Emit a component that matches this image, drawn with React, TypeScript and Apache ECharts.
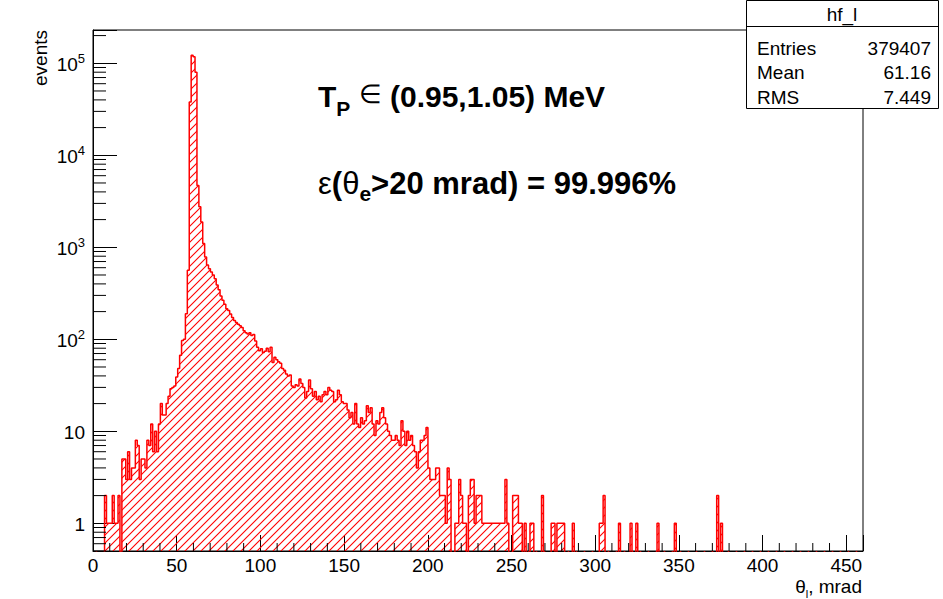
import React, { useEffect, useRef } from "react";
import * as echarts from "echarts";

const FONT = '"Liberation Sans", Arial, Helvetica, sans-serif';

// Histogram binning (mrad)
const BIN_WIDTH = 1.15;
const X_MAX = 460;
const Y_MIN = 0.5;
const Y_MAX = 2.3e5;
// empty bins are pushed below the frame so their outline drops out of view
const EMPTY_LEVEL = 0.3;

// bins 0..49: rising edge
const risingCounts = [
  0, 0, 0, 0, 0, 0, 2, 1, 1, 1, 2, 1, 1, 2, 0, 5, 5, 3, 6, 3,
  4, 4, 8, 7, 3, 5, 5, 4, 8, 7, 12, 6, 10, 6, 12, 20, 15, 15, 20, 24,
  29, 30, 31, 39, 48, 67, 97, 100, 190, 562,
];
// bins 50..58: the peak
const peakCounts = [38000, 122000, 118000, 80000, 4700, 2750, 1880, 1100, 785];
// bins 59..201: falling tail
const tailCounts = [
  640, 585, 540, 500, 455, 390, 345, 295, 265, 240, 215, 205,
  188, 172, 160, 152, 146, 140, 134, 124, 118, 114,
  118, 110, 113, 96, 82, 75, 79, 72, 74, 80,
  73, 82, 56, 64, 60, 57, 55, 48, 46, 42,
  40, 41, 31, 30, 32, 31, 37, 33, 30, 23,
  27, 36, 29, 24, 27, 22, 24, 21, 25, 27,
  25, 30, 28, 27, 21, 22, 28, 25, 21, 20,
  20, 17, 14, 16, 12, 20, 12, 11, 14, 12,
  13, 19, 16, 18, 12, 9, 13, 12, 16, 18,
  14, 12, 10, 9, 8, 8, 9, 8, 7, 13,
  10, 7, 10, 8, 9, 7, 6, 4, 6, 8,
  8, 9, 11, 4, 3, 3, 3, 4, 4, 2,
  2, 2, 1, 4, 3, 0, 0, 1, 1, 3,
  2, 1, 1, 0, 2, 3, 3, 1, 2, 2,
  2,
];
// isolated bins beyond 201: [bin, count]
const sparseTail: [number, number][] = [
  [202, 1], [203, 1], [204, 1], [205, 1], [206, 1], [207, 1], [208, 1],
  [209, 1], [210, 1], [211, 1], [212, 1], [213, 1], [214, 3], [215, 1],
  [218, 2], [219, 2], [220, 2], [221, 1], [222, 1], [224, 1], [227, 1],
  [228, 1], [233, 2], [238, 1], [239, 1], [241, 1], [242, 1], [243, 1],
  [244, 1], [249, 1], [263, 1], [264, 1], [265, 2], [273, 1], [279, 1],
  [282, 1], [293, 1], [302, 1], [324, 2], [326, 1],
];

const xMajorTicks = [0, 50, 100, 150, 200, 250, 300, 350, 400, 450];
const yDecades = [1, 10, 100, 1000, 10000, 100000];

const statsTitle = "hf_l";
const statsRows: [string, string][] = [
  ["Entries", "379407"],
  ["Mean", "61.16"],
  ["RMS", "7.449"],
];

function buildCounts(): number[] {
  const n = Math.round(X_MAX / BIN_WIDTH);
  const counts = new Array(n).fill(0);
  risingCounts.forEach((c, i) => (counts[i] = c));
  peakCounts.forEach((c, i) => (counts[50 + i] = c));
  tailCounts.forEach((c, i) => (counts[59 + i] = c));
  sparseTail.forEach(([b, c]) => (counts[b] = c));
  return counts;
}

function makeHatch(): HTMLCanvasElement {
  const s = 8;
  const c = document.createElement("canvas");
  c.width = s;
  c.height = s;
  const g = c.getContext("2d")!;
  g.strokeStyle = "#ff0000";
  g.lineWidth = 1.1;
  g.beginPath();
  g.moveTo(0, s);
  g.lineTo(s, 0);
  g.moveTo(-1, 1);
  g.lineTo(1, -1);
  g.moveTo(s - 1, s + 1);
  g.lineTo(s + 1, s - 1);
  g.stroke();
  return c;
}

function minorTickData(): number[][] {
  const out: number[][] = [];
  // x: every 10 mrad between the labelled ticks
  for (let v = 10; v < X_MAX; v += 10) {
    if (!xMajorTicks.includes(v)) out.push([v, Y_MIN, 0]);
  }
  // y: 2..9 within each decade
  for (let d = -1; d <= 5; d++) {
    for (let k = 2; k <= 9; k++) {
      const v = k * Math.pow(10, d);
      if (v >= Y_MIN && v <= Y_MAX) out.push([0, v, 1]);
    }
  }
  return out;
}

const textStyle = (text: string, align: string, vAlign: string, extra: any = {}) => ({
  text,
  font: `19px ${FONT}`,
  fill: "#000",
  align,
  verticalAlign: vAlign,
  textAlign: align,
  textVerticalAlign: vAlign,
  ...extra,
});

export default function App() {
  const ref = useRef<HTMLDivElement>(null);

  useEffect(() => {
    if (!ref.current) return;
    const chart = echarts.init(ref.current, undefined, { renderer: "svg" });
    const counts = buildCounts();
    const points = counts.map((c, i) => [i * BIN_WIDTH, c > 0 ? c : EMPTY_LEVEL]);
    points.push([X_MAX, EMPTY_LEVEL]);
    const hatch = makeHatch();

    const option: any = {
      animation: false,
      backgroundColor: "#ffffff",
      grid: {
        left: 93,
        top: 30,
        right: 80,
        bottom: 48,
        show: true,
        borderColor: "#000",
        borderWidth: 1,
        backgroundColor: "transparent",
      },
      xAxis: {
        type: "value",
        min: 0,
        max: X_MAX,
        interval: 50,
        axisLine: { show: true, onZero: false, lineStyle: { color: "#000", width: 1 } },
        axisTick: { show: true, inside: true, length: 16, lineStyle: { color: "#000", width: 1 } },
        axisLabel: {
          margin: 5,
          color: "#000",
          fontFamily: FONT,
          fontSize: 19,
          formatter: (v: number) => (xMajorTicks.includes(v) ? String(v) : ""),
        },
        splitLine: { show: false },
      },
      yAxis: {
        type: "log",
        logBase: 10,
        min: Y_MIN,
        max: Y_MAX,
        axisLine: { show: true, lineStyle: { color: "#000", width: 1 } },
        axisTick: { show: true, inside: true, length: 24, lineStyle: { color: "#000", width: 1 } },
        axisLabel: {
          margin: 8,
          color: "#000",
          formatter: (v: number) => {
            const e = Math.round(Math.log10(v));
            if (Math.abs(Math.log10(v) - e) > 1e-6 || !yDecades.includes(Math.pow(10, e))) return "";
            if (e === 0) return "{b|1}";
            if (e === 1) return "{b|10}";
            return "{b|10}{s|" + e + "}";
          },
          rich: {
            b: { fontFamily: FONT, fontSize: 19, lineHeight: 22, verticalAlign: "bottom", color: "#000" },
            s: { fontFamily: FONT, fontSize: 13, lineHeight: 11, verticalAlign: "top", color: "#000" },
          },
        },
        splitLine: { show: false },
      },
      series: [
        {
          type: "line",
          data: points,
          step: "end",
          showSymbol: false,
          symbol: "none",
          clip: true,
          lineStyle: { color: "#ff0000", width: 1.5 },
          areaStyle: {
            origin: "start",
            opacity: 1,
            color: { image: hatch, repeat: "repeat", imageWidth: 8, imageHeight: 8 },
          },
          z: 3,
        },
        {
          type: "custom",
          coordinateSystem: "cartesian2d",
          silent: true,
          data: minorTickData(),
          encode: { x: 0, y: 1 },
          z: 4,
          renderItem: (_params: any, api: any) => {
            const kind = api.value(2);
            const p = api.coord([api.value(0), api.value(1)]);
            if (kind === 0) {
              return {
                type: "line",
                shape: { x1: p[0], y1: p[1], x2: p[0], y2: p[1] - 8 },
                style: { stroke: "#000", lineWidth: 1 },
              };
            }
            return {
              type: "line",
              shape: { x1: p[0], y1: p[1], x2: p[0] + 13, y2: p[1] },
              style: { stroke: "#000", lineWidth: 1 },
            };
          },
        },
      ],
      graphic: [
        // y axis title
        {
          type: "text",
          x: 40,
          y: 30,
          rotation: Math.PI / 2,
          style: textStyle("events", "right", "middle"),
        },
        // x axis title
        {
          type: "text",
          x: 862,
          y: 577,
          style: textStyle("{n|θ}{s|l}{n|, mrad}", "right", "top", {
            rich: {
              s: { fontFamily: FONT, fontSize: 11, lineHeight: 22, verticalAlign: "bottom", fill: "#000" },
              n: { fontFamily: FONT, fontSize: 19, lineHeight: 19, verticalAlign: "top", fill: "#000" },
            },
          }),
        },
        // annotation: proton energy window
        {
          type: "text",
          x: 318,
          y: 81,
          style: textStyle("{b|T}{sub|P}{b| }{sym|∈}{b| (0.95,1.05) MeV}", "left", "top", {
            rich: {
              b: { fontFamily: FONT, fontSize: 30, fontWeight: "bold", lineHeight: 30, verticalAlign: "top", fill: "#000" },
              sub: { fontFamily: FONT, fontSize: 21, fontWeight: "bold", lineHeight: 38, verticalAlign: "bottom", fill: "#000" },
              sym: { fontFamily: FONT, fontSize: 26, lineHeight: 30, verticalAlign: "top", fill: "#000" },
            },
          }),
        },
        // annotation: efficiency
        {
          type: "text",
          x: 318,
          y: 168,
          style: textStyle("{g|ε}{b|(}{g|θ}{sub|e}{b|>20 mrad) = 99.996%}", "left", "top", {
            rich: {
              b: { fontFamily: FONT, fontSize: 31, fontWeight: "bold", lineHeight: 31, verticalAlign: "top", fill: "#000" },
              g: { fontFamily: FONT, fontSize: 31, lineHeight: 31, verticalAlign: "top", fill: "#000" },
              sub: { fontFamily: FONT, fontSize: 21, fontWeight: "bold", lineHeight: 36, verticalAlign: "bottom", fill: "#000" },
            },
          }),
        },
        // statistics box
        {
          type: "group",
          z: 100,
          children: [
            {
              type: "rect",
              shape: { x: 746.5, y: 0.5, width: 192, height: 108 },
              style: { fill: "#fff", stroke: "#000", lineWidth: 1 },
            },
            {
              type: "line",
              shape: { x1: 746.5, y1: 26.5, x2: 938.5, y2: 26.5 },
              style: { stroke: "#000", lineWidth: 1 },
            },
            {
              type: "text",
              x: 842,
              y: 14,
              style: textStyle(statsTitle, "center", "middle"),
            },
            ...statsRows.flatMap(([k, v], i) => [
              {
                type: "text",
                x: 757,
                y: 48 + i * 24.5,
                style: textStyle(k, "left", "middle"),
              },
              {
                type: "text",
                x: 931,
                y: 48 + i * 24.5,
                style: textStyle(v, "right", "middle"),
              },
            ]),
          ],
        },
      ],
    };

    chart.setOption(option);
    return () => chart.dispose();
  }, []);

  return (
    <div
      ref={ref}
      style={{ position: "absolute", left: 0, top: 0, width: 943, height: 599 }}
    />
  );
}
